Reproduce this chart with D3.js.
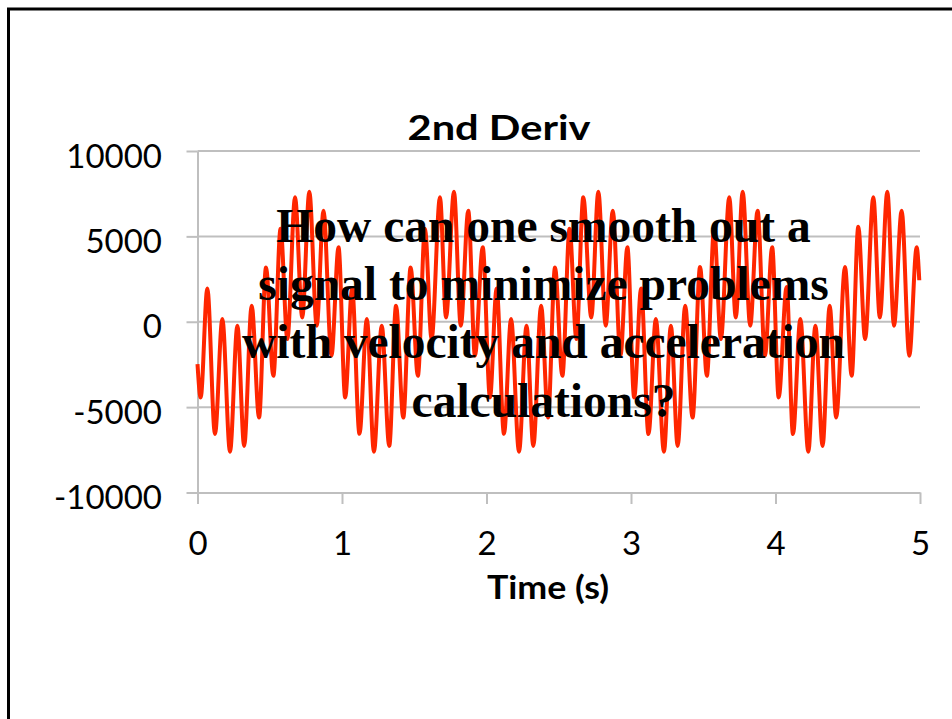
<!DOCTYPE html>
<html>
<head>
<meta charset="utf-8">
<script src="https://cdn.jsdelivr.net/npm/d3@7"></script>
<style>
  html, body { margin: 0; padding: 0; background: #fff; }
  svg { display: block; }
</style>
</head>
<body>
<svg id="chart" width="952" height="719"></svg>
<script>
// Second derivative of the measured position signal: local peaks and troughs (time in s, value)
const timeS = [
  0.000,
  0.022, 0.068, 0.121, 0.172, 0.225, 0.276, 0.323, 0.375, 0.426, 0.474,
  0.525, 0.575, 0.622, 0.675, 0.725, 0.774, 0.825, 0.872, 0.927, 0.976,
  1.022, 1.070, 1.121, 1.172, 1.221, 1.275, 1.327, 1.374, 1.424, 1.475,
  1.525, 1.574, 1.620, 1.678, 1.720, 1.775, 1.822, 1.874, 1.920, 1.974,
  2.024, 2.070, 2.121, 2.170, 2.225, 2.277, 2.324, 2.378, 2.426, 2.474,
  2.525, 2.575, 2.622, 2.670, 2.725, 2.774, 2.825, 2.874, 2.927, 2.975,
  3.022, 3.070, 3.121, 3.172, 3.228, 3.276, 3.323, 3.375, 3.426, 3.478,
  3.525, 3.575, 3.622, 3.680, 3.725, 3.773, 3.825, 3.876, 3.927, 3.977,
  4.022, 4.077, 4.121, 4.172, 4.227, 4.276, 4.326, 4.375, 4.420, 4.481,
  4.527, 4.573, 4.620, 4.677, 4.722, 4.774, 4.820, 4.873, 4.926, 4.977,
  4.995
];
const accel = [
  -2480,
  -4440, 1950, -6580, 160, -7610, -230, -7270, 940, -5610, 3180,
  -3165, 5450, -1015, 7290, 250, 7610, -230, 6500, -1990, 4360,
  -4430, 1950, -6560, 160, -7610, -234, -7270, 938, -5610, 3180,
  -3165, 5450, -1015, 7290, 254, 7610, -234, 6500, -1990, 4360,
  -4430, 1950, -6560, 160, -7610, -234, -7270, 940, -5610, 3180,
  -3165, 5450, -1015, 7290, 250, 7610, -230, 6500, -1990, 4360,
  -4430, 1950, -6580, 160, -7610, -230, -7270, 940, -5610, 3210,
  -3165, 5450, -1015, 7290, 250, 7610, -230, 6500, -1990, 4360,
  -4430, 2040, -6580, 160, -7610, -230, -7270, 940, -5610, 3210,
  -3165, 5560, -1015, 7290, 250, 7610, -230, 6500, -1990, 4360,
  2430
];

const xTicks = [0, 1, 2, 3, 4, 5];
const yTicks = [-10000, -5000, 0, 5000, 10000];

const titleText = "2nd Deriv";
const xTitle = "Time (s)";
const noteLines = [
  "How can one smooth out a",
  "signal to minimize problems",
  "with velocity and acceleration",
  "calculations?"
];

// ---- drawing ----
const svg = d3.select("#chart");
const gridColor = "#bfbfbf";

// page frame
svg.append("rect")
  .attr("x", 8.5).attr("y", 9)
  .attr("width", 1000).attr("height", 1000)
  .attr("fill", "none").attr("stroke", "#000").attr("stroke-width", 3);

const x = d3.scaleLinear().domain([0, 5]).range([197.5, 920]);
const y = d3.scaleLinear().domain([-10000, 10000]).range([492.5, 151]);

// horizontal gridlines
svg.append("g").selectAll("line")
  .data(yTicks.filter(d => d !== -10000))
  .join("line")
  .attr("x1", x(0)).attr("x2", x(5))
  .attr("y1", d => y(d)).attr("y2", d => y(d))
  .attr("stroke", gridColor).attr("stroke-width", 2);

// y axis
const yAxis = svg.append("g")
  .attr("transform", `translate(${x(0)},0)`)
  .call(d3.axisLeft(y).tickValues(yTicks).tickSize(11).tickSizeOuter(0).tickPadding(24.5)
    .tickFormat(d => String(d)));
yAxis.select(".domain").attr("stroke", gridColor).attr("stroke-width", 2);
yAxis.selectAll(".tick line").attr("stroke", gridColor).attr("stroke-width", 2);
yAxis.selectAll(".tick text")
  .attr("dy", "0.485em")
  .attr("fill", "#000")
  .style("font-family", "Lato, 'Open Sans', sans-serif")
  .style("font-size", "33px");

// x axis
const xAxis = svg.append("g")
  .attr("transform", `translate(0,${y(-10000)})`)
  .call(d3.axisBottom(x).tickValues(xTicks).tickSize(11.5).tickSizeOuter(0)
    .tickFormat(d => String(d)));
xAxis.select(".domain").attr("stroke", gridColor).attr("stroke-width", 2);
xAxis.selectAll(".tick line").attr("stroke", gridColor).attr("stroke-width", 2);
xAxis.selectAll(".tick text")
  .attr("y", 62.5).attr("dy", 0)
  .attr("fill", "#000")
  .style("font-family", "Lato, 'Open Sans', sans-serif")
  .style("font-size", "33px");

// signal line
const pts = timeS.map((t, i) => [t, accel[i]]);
const line = d3.line()
  .x(d => x(d[0]))
  .y(d => y(d[1]))
  .curve(d3.curveMonotoneX);
svg.append("path")
  .datum(pts)
  .attr("d", line)
  .attr("fill", "none")
  .attr("stroke", "#ff2600")
  .attr("stroke-width", 4)
  .attr("stroke-linejoin", "round");

// chart title
svg.append("text")
  .attr("x", 499).attr("y", 139.5)
  .attr("text-anchor", "middle")
  .attr("textLength", 183).attr("lengthAdjust", "spacingAndGlyphs")
  .style("font-family", "Lato, 'Open Sans', sans-serif")
  .style("font-weight", "bold")
  .style("font-size", "35px")
  .text(titleText);

// x axis title
svg.append("text")
  .attr("x", 548).attr("y", 599)
  .attr("text-anchor", "middle")
  .attr("textLength", 122).attr("lengthAdjust", "spacingAndGlyphs")
  .style("font-family", "Lato, 'Open Sans', sans-serif")
  .style("font-weight", "bold")
  .style("font-size", "33px")
  .text(xTitle);

// question overlaid on the plot
svg.append("g").selectAll("text")
  .data(noteLines)
  .join("text")
  .attr("x", 543.5)
  .attr("y", (d, i) => 241.7 + i * 58.3)
  .attr("text-anchor", "middle")
  .attr("fill", "#000")
  .style("font-family", "'Liberation Serif', 'Times New Roman', serif")
  .style("font-weight", "bold")
  .style("font-size", "47.5px")
  .text(d => d);
</script>
</body>
</html>
